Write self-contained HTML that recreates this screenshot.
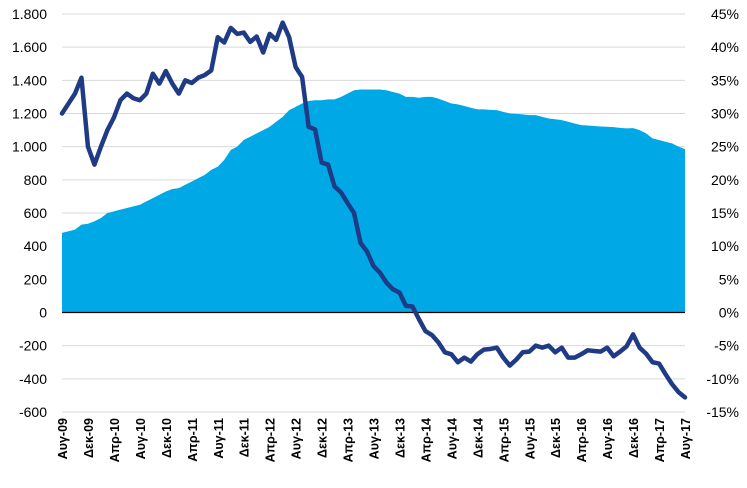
<!DOCTYPE html>
<html><head><meta charset="utf-8"><style>
html,body{margin:0;padding:0;background:#fff;}
svg{display:block;font-family:"Liberation Sans",Arial,sans-serif;}
</style></head><body>
<svg id="chart" width="747" height="488" viewBox="0 0 747 488" xmlns="http://www.w3.org/2000/svg"></svg>
<script>
const areaValues=[480,490,500,530,535,550,570,600,610,620,630,640,650,670,690,710,730,745,750,770,790,810,830,860,880,920,980,1000,1040,1060,1080,1100,1120,1150,1180,1220,1240,1260,1275,1280,1280,1285,1285,1300,1320,1340,1345,1345,1345,1345,1340,1330,1320,1300,1300,1295,1300,1300,1290,1275,1260,1255,1245,1235,1225,1225,1222,1220,1210,1200,1198,1195,1190,1190,1180,1170,1165,1160,1150,1140,1130,1128,1125,1122,1120,1118,1113,1110,1112,1100,1080,1050,1040,1030,1020,1000,985];
const lineValues=[30,31.5,33,35.4,25,22.3,25,27.5,29.4,32,33,32.3,32,33,36,34.5,36.4,34.5,33,35,34.6,35.4,35.8,36.5,41.5,40.7,42.9,42,42.2,40.8,41.6,39.2,42,41.1,43.7,41.5,37,35.5,28,27.6,22.6,22.3,19,18.1,16.5,15,10.5,9.2,7,6,4.5,3.5,3,1,0.9,-1,-2.8,-3.4,-4.5,-6,-6.3,-7.5,-6.8,-7.4,-6.3,-5.6,-5.5,-5.3,-6.8,-8,-7.1,-6,-5.9,-5,-5.3,-5,-6,-5.3,-6.8,-6.8,-6.3,-5.7,-5.8,-5.9,-5.3,-6.6,-5.9,-5.1,-3.3,-5.3,-6.2,-7.5,-7.7,-9.3,-10.8,-12,-12.8];
const leftTicks=[-600,-400,-200,0,200,400,600,800,1000,1200,1400,1600,1800];
const leftTickLabels=["-600","-400","-200","0","200","400","600","800","1.000","1.200","1.400","1.600","1.800"];
const rightTicks=[-15,-10,-5,0,5,10,15,20,25,30,35,40,45];
const xLabels=["Αυγ-09","Δεκ-09","Απρ-10","Αυγ-10","Δεκ-10","Απρ-11","Αυγ-11","Δεκ-11","Απρ-12","Αυγ-12","Δεκ-12","Απρ-13","Αυγ-13","Δεκ-13","Απρ-14","Αυγ-14","Δεκ-14","Απρ-15","Αυγ-15","Δεκ-15","Απρ-16","Αυγ-16","Δεκ-16","Απρ-17","Αυγ-17"];

const svg=document.getElementById('chart');
const NS='http://www.w3.org/2000/svg';
const X0=62,X1=685,YT=14,YB=412;
const xs=i=>X0+(X1-X0)*i/(areaValues.length-1);
const yL=v=>YB-(v+600)/2400*(YB-YT);
const yR=v=>YB-(v+15)/60*(YB-YT);
function mk(tag,attrs){const e=document.createElementNS(NS,tag);for(const k in attrs)e.setAttribute(k,attrs[k]);svg.appendChild(e);return e;}

leftTicks.forEach((t,i)=>{
  if(t!==0){const g=mk('line',{x1:X0,x2:X1,y1:yL(t),y2:yL(t),stroke:'#d9d9d9','stroke-width':1});
  
  }
  const tx=mk('text',{x:47,y:yL(t)+5,'text-anchor':'end','font-size':14,fill:'#000'});
  tx.textContent=leftTickLabels[i];
  
  
});
rightTicks.forEach(t=>{
  const tx=mk('text',{x:739,y:yR(t)+5,'text-anchor':'end','font-size':14,fill:'#000'});
  tx.textContent=t+'%';
  
  
});
let d='M'+xs(0)+','+yL(0);
areaValues.forEach((v,i)=>{d+=' L'+xs(i).toFixed(2)+','+yL(v).toFixed(2);});
d+=' L'+xs(areaValues.length-1)+','+yL(0)+' Z';
const area=mk('path',{d:d,fill:'#00a9e6'});


const zl=mk('line',{x1:X0,x2:X1,y1:yL(0),y2:yL(0),stroke:'#000','stroke-width':1.2});


const pts=lineValues.map((v,i)=>xs(i).toFixed(2)+','+yR(v).toFixed(2)).join(' ');
const ln=mk('polyline',{points:pts,fill:'none',stroke:'#1f3b85','stroke-width':4.5,'stroke-linejoin':'round','stroke-linecap':'round'});


xLabels.forEach((l,i)=>{
  const x=xs(i*4)+5;
  const tx=mk('text',{x:x,y:418,'text-anchor':'end','font-size':12.5,'font-weight':'bold',fill:'#000',transform:'rotate(-90 '+x+' 418)'});
  tx.textContent=l;
  
  
});
</script>
</body></html>
